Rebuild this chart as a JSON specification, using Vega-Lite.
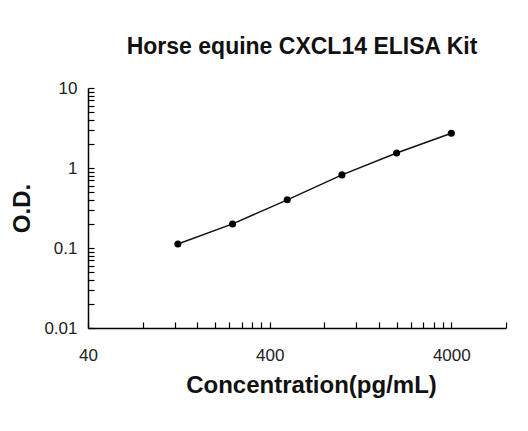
{
  "$schema": "https://vega.github.io/schema/vega-lite/v6.json",
  "width": 418,
  "height": 240,
  "autosize": {"type": "none"},
  "padding": {"left": 88, "top": 88, "right": 22, "bottom": 103},
  "background": "white",
  "title": {
    "text": "Horse equine CXCL14 ELISA Kit",
    "font": "Liberation Sans",
    "fontSize": 23,
    "fontWeight": "bold",
    "color": "#111111",
    "anchor": "middle",
    "offset": 20,
    "dx": 5
  },
  "config": {
    "view": {"stroke": null},
    "axis": {
      "grid": false,
      "domainColor": "#000000",
      "domainWidth": 1.5,
      "tickColor": "#000000",
      "tickWidth": 1.2,
      "tickSize": -6,
      "labelFont": "Liberation Sans",
      "labelFontSize": 17,
      "labelColor": "#222222",
      "titleFont": "Liberation Sans",
      "titleFontSize": 24,
      "titleFontWeight": "bold",
      "titleColor": "#111111",
      "labelOverlap": false,
      "labelFlush": false,
      "labelBound": false
    }
  },
  "data": {
    "values": [
      {"conc": 125, "od": 0.112},
      {"conc": 250, "od": 0.2},
      {"conc": 500, "od": 0.4},
      {"conc": 1000, "od": 0.82},
      {"conc": 2000, "od": 1.54},
      {"conc": 4000, "od": 2.72}
    ]
  },
  "encoding": {
    "x": {
      "field": "conc",
      "type": "quantitative",
      "scale": {"type": "log", "domain": [40, 8000], "nice": false},
      "axis": {
        "title": "Concentration(pg/mL)",
        "titlePadding": 10,
        "titleX": 223,
        "labelPadding": 25,
        "values": [40, 80, 120, 160, 200, 240, 280, 320, 360, 400, 800, 1200, 1600, 2000, 2400, 2800, 3200, 3600, 4000, 8000],
        "labelExpr": "datum.value == 40 || datum.value == 400 || datum.value == 4000 ? format(datum.value, 'd') : ''"
      }
    },
    "y": {
      "field": "od",
      "type": "quantitative",
      "scale": {"type": "log", "domain": [0.01, 10], "nice": false},
      "axis": {
        "title": "O.D.",
        "titlePadding": 9,
        "labelPadding": 17,
        "values": [0.01, 0.02, 0.03, 0.04, 0.05, 0.06, 0.07, 0.08, 0.09, 0.1, 0.2, 0.3, 0.4, 0.5, 0.6, 0.7, 0.8, 0.9, 1, 2, 3, 4, 5, 6, 7, 8, 9, 10],
        "labelExpr": "datum.value == 0.01 ? '0.01' : datum.value == 0.1 ? '0.1' : datum.value == 1 ? '1' : datum.value == 10 ? '10' : ''"
      }
    }
  },
  "layer": [
    {"mark": {"type": "line", "color": "#111111", "strokeWidth": 1.5}},
    {"mark": {"type": "point", "filled": true, "color": "#000000", "opacity": 1, "size": 50}}
  ]
}
